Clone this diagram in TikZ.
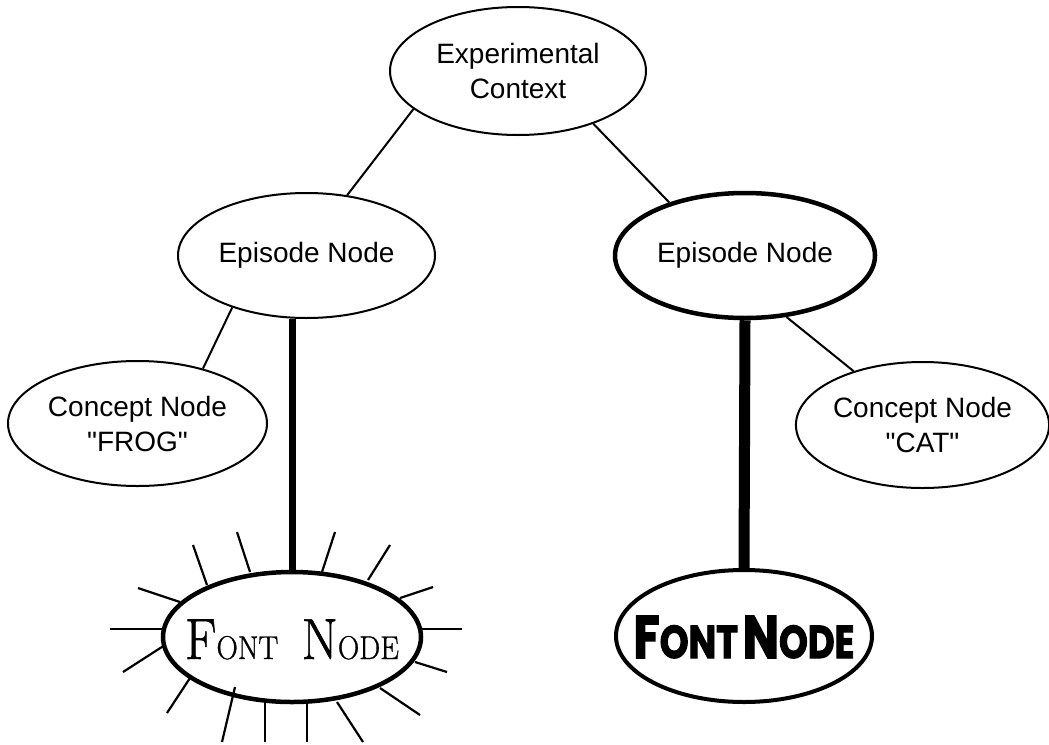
\documentclass[tikz,border=0pt]{standalone}
\usepackage{fontspec}
\setmainfont{Liberation Sans}[Ligatures=TeXOff]
\newfontfamily\fancyfont{Latin Modern Roman}[FakeBold=1]
\newfontfamily\heavyfont{Poppins}[BoldFeatures={FakeBold=2.5}]
\usetikzlibrary{shapes.geometric}
\newcommand{\fixedtext}[1]{\makebox[0pt][c]{\smash{#1}}}
\begin{document}
\begin{tikzpicture}[x=1pt,y=-1pt,
  oval/.style={ellipse,draw,line width=2pt,inner sep=0pt,align=center,
    font=\fontsize{28}{35}\selectfont},
  thickoval/.style={oval,line width=4.5pt},
  link/.style={line width=2pt},
  heavylink/.style={line width=7pt},
  heavierlink/.style={line width=11pt},
  ray/.style={line width=2.2pt}]
\useasboundingbox (0,0) rectangle (1049,744);
\node[oval,minimum width=256pt,minimum height=128pt] (exp) at (518,71) {Experimental\\Context};
\node[oval,minimum width=257pt,minimum height=125pt] (lep) at (306.5,255.5) {Episode Node};
\node[thickoval,minimum width=260pt,minimum height=125pt] (rep) at (745,255.5) {Episode Node};
\node[oval,minimum width=259pt,minimum height=125pt] (frog) at (137.5,423.5) {Concept Node\\"FROG"};
\node[oval,minimum width=249pt,minimum height=126pt] (cat) at (922.5,425) {Concept Node\\"CAT"};
\node[thickoval,minimum width=258pt,minimum height=130pt,font=\fancyfont] (lfont) at (292,637)
  {\fixedtext{\raisebox{-22pt}{\scalebox{0.9}[1]{\fontsize{58}{58}\selectfont F\fontsize{33}{33}\selectfont ONT\hspace{26pt}\fontsize{58}{58}\selectfont N\fontsize{33}{33}\selectfont ODE}}}};
\node[thickoval,line width=4pt,minimum width=256pt,minimum height=132pt,font=\heavyfont\bfseries] (rfont) at (744,636)
  {\fixedtext{\raisebox{-22pt}{\scalebox{0.8}[1]{\fontsize{60}{60}\selectfont F\fontsize{46}{46}\selectfont ONT\hspace{6pt}\fontsize{60}{60}\selectfont N\fontsize{46}{46}\selectfont ODE}}}};
\draw[link] (exp.200) -- (lep.56.8);
\draw[link] (exp.-35) -- (rep.145.2);
\draw[link] (lep.215.6) -- (frog.40.7);
\draw[link] (rep.-56) -- (cat.142);
\draw[heavylink] (lfont.north) -- (lfont.north |- lep.south);
\draw[heavierlink] (rep.south) -- (rfont.north);
% rays
\draw[ray] (193,545) -- (207,585);
\draw[ray] (237,532) -- (250,572);
\draw[ray] (335,532) -- (322,572);
\draw[ray] (390,545) -- (368,580);
\draw[ray] (433,587) -- (400,598);
\draw[ray] (462,629) -- (422,629);
\draw[ray] (447,672) -- (415,662);
\draw[ray] (420,715) -- (380,688);
\draw[ray] (363,742) -- (337,702);
\draw[ray] (307,742) -- (307,703);
\draw[ray] (265,742) -- (265,702);
\draw[ray] (222,742) -- (235,687);
\draw[ray] (167,713) -- (190,678);
\draw[ray] (123,672) -- (165,645);
\draw[ray] (110,629) -- (163,629);
\draw[ray] (138,588) -- (180,602);
\end{tikzpicture}
\end{document}
